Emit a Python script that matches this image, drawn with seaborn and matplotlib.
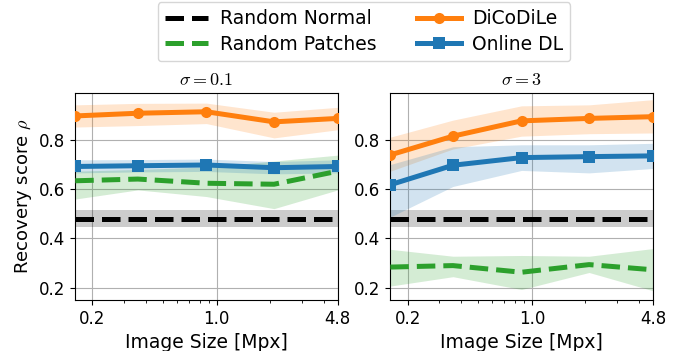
import numpy as np
import pandas as pd
import matplotlib
matplotlib.use("Agg")
import matplotlib.pyplot as plt
import seaborn as sns

plt.rcParams["mathtext.fontset"] = "cm"
plt.rcParams["font.family"] = ["DejaVu Sans"]

# Image sizes in megapixels
sizes = [0.16, 0.36, 0.875, 2.1, 4.8]
xticks = [0.2, 1.0, 4.8]
xticklabels = ["0.2", "1.0", "4.8"]
yticks = [0.2, 0.4, 0.6, 0.8]
titles = [r"$\sigma=0.1$", r"$\sigma=3$"]
methods = ["Random Normal", "Random Patches", "DiCoDiLe", "Online DL"]

# Mean recovery score and band limits, sigma = 0.1
normal_mean_a = [0.48, 0.48, 0.48, 0.48, 0.48]
normal_lo_a = [0.445, 0.445, 0.445, 0.445, 0.445]
normal_hi_a = [0.515, 0.515, 0.515, 0.515, 0.515]
patches_mean_a = [0.634, 0.641, 0.624, 0.620, 0.673]
patches_lo_a = [0.560, 0.597, 0.570, 0.521, 0.597]
patches_hi_a = [0.673, 0.680, 0.690, 0.714, 0.738]
dico_mean_a = [0.897, 0.908, 0.914, 0.873, 0.887]
dico_lo_a = [0.852, 0.858, 0.866, 0.808, 0.841]
dico_hi_a = [0.942, 0.948, 0.949, 0.912, 0.932]
online_mean_a = [0.692, 0.695, 0.698, 0.687, 0.692]
online_lo_a = [0.666, 0.670, 0.672, 0.662, 0.666]
online_hi_a = [0.719, 0.720, 0.722, 0.712, 0.719]

# Mean recovery score and band limits, sigma = 3
normal_mean_b = [0.48, 0.48, 0.48, 0.48, 0.48]
normal_lo_b = [0.445, 0.445, 0.445, 0.445, 0.445]
normal_hi_b = [0.515, 0.515, 0.515, 0.515, 0.515]
patches_mean_b = [0.284, 0.290, 0.263, 0.294, 0.273]
patches_lo_b = [0.207, 0.245, 0.193, 0.262, 0.188]
patches_hi_b = [0.356, 0.328, 0.331, 0.328, 0.359]
dico_mean_b = [0.739, 0.815, 0.877, 0.887, 0.894]
dico_lo_b = [0.673, 0.763, 0.815, 0.825, 0.828]
dico_hi_b = [0.811, 0.880, 0.938, 0.942, 0.963]
online_mean_b = [0.618, 0.697, 0.728, 0.732, 0.735]
online_lo_b = [0.487, 0.611, 0.676, 0.666, 0.684]
online_hi_b = [0.700, 0.772, 0.780, 0.780, 0.786]

panels = [
    {"Random Normal": (normal_mean_a, normal_lo_a, normal_hi_a),
     "Random Patches": (patches_mean_a, patches_lo_a, patches_hi_a),
     "DiCoDiLe": (dico_mean_a, dico_lo_a, dico_hi_a),
     "Online DL": (online_mean_a, online_lo_a, online_hi_a)},
    {"Random Normal": (normal_mean_b, normal_lo_b, normal_hi_b),
     "Random Patches": (patches_mean_b, patches_lo_b, patches_hi_b),
     "DiCoDiLe": (dico_mean_b, dico_lo_b, dico_hi_b),
     "Online DL": (online_mean_b, online_lo_b, online_hi_b)},
]

styles = {
    "Random Normal": dict(color="black", linestyle="--", marker=None),
    "Random Patches": dict(color="#2ca02c", linestyle="--", marker=None),
    "DiCoDiLe": dict(color="#ff7f0e", linestyle="-", marker="o"),
    "Online DL": dict(color="#1f77b4", linestyle="-", marker="s"),
}

fig, axes = plt.subplots(1, 2, figsize=(6.78, 3.51), dpi=100)
fig.subplots_adjust(left=0.111, right=0.963, bottom=0.145, top=0.735, wspace=0.2)

for ax, panel, title in zip(axes, panels, titles):
    for name in methods:
        mean, lo, hi = panel[name]
        st = styles[name]
        df = pd.DataFrame({"size": sizes, "score": mean})
        sns.lineplot(data=df, x="size", y="score", ax=ax, color=st["color"],
                     linestyle=st["linestyle"], marker=st["marker"],
                     markersize=8, markeredgewidth=0, linewidth=3.6,
                     label=name, legend=False, zorder=3)
        ax.fill_between(sizes, lo, hi, color=st["color"], alpha=0.2,
                        linewidth=0, zorder=2)
    ax.set_xscale("log")
    ax.set_xlim(sizes[0], sizes[-1])
    ax.set_ylim(0.15, 0.99)
    ax.set_xticks(xticks)
    ax.set_xticklabels(xticklabels)
    ax.xaxis.set_minor_formatter(matplotlib.ticker.NullFormatter())
    ax.set_yticks(yticks)
    ax.grid(True, which="major", color="#b0b0b0", linewidth=0.8)
    ax.set_axisbelow(True)
    ax.set_title(title, fontsize=13)
    ax.set_xlabel("Image Size [Mpx]", fontsize=13.5)
    ax.set_ylabel("")
    ax.tick_params(labelsize=12)
axes[0].set_ylabel(r"Recovery score $\rho$", fontsize=13)

h, l = axes[0].get_legend_handles_labels()
fig.legend(h, l, loc="upper center", ncol=2, bbox_to_anchor=(0.537, 1.0),
           fontsize=13.5, handlelength=2.3, handletextpad=0.6,
           columnspacing=2.2, borderaxespad=0.1, labelspacing=0.35)

fig.savefig("out.png", dpi=100)
